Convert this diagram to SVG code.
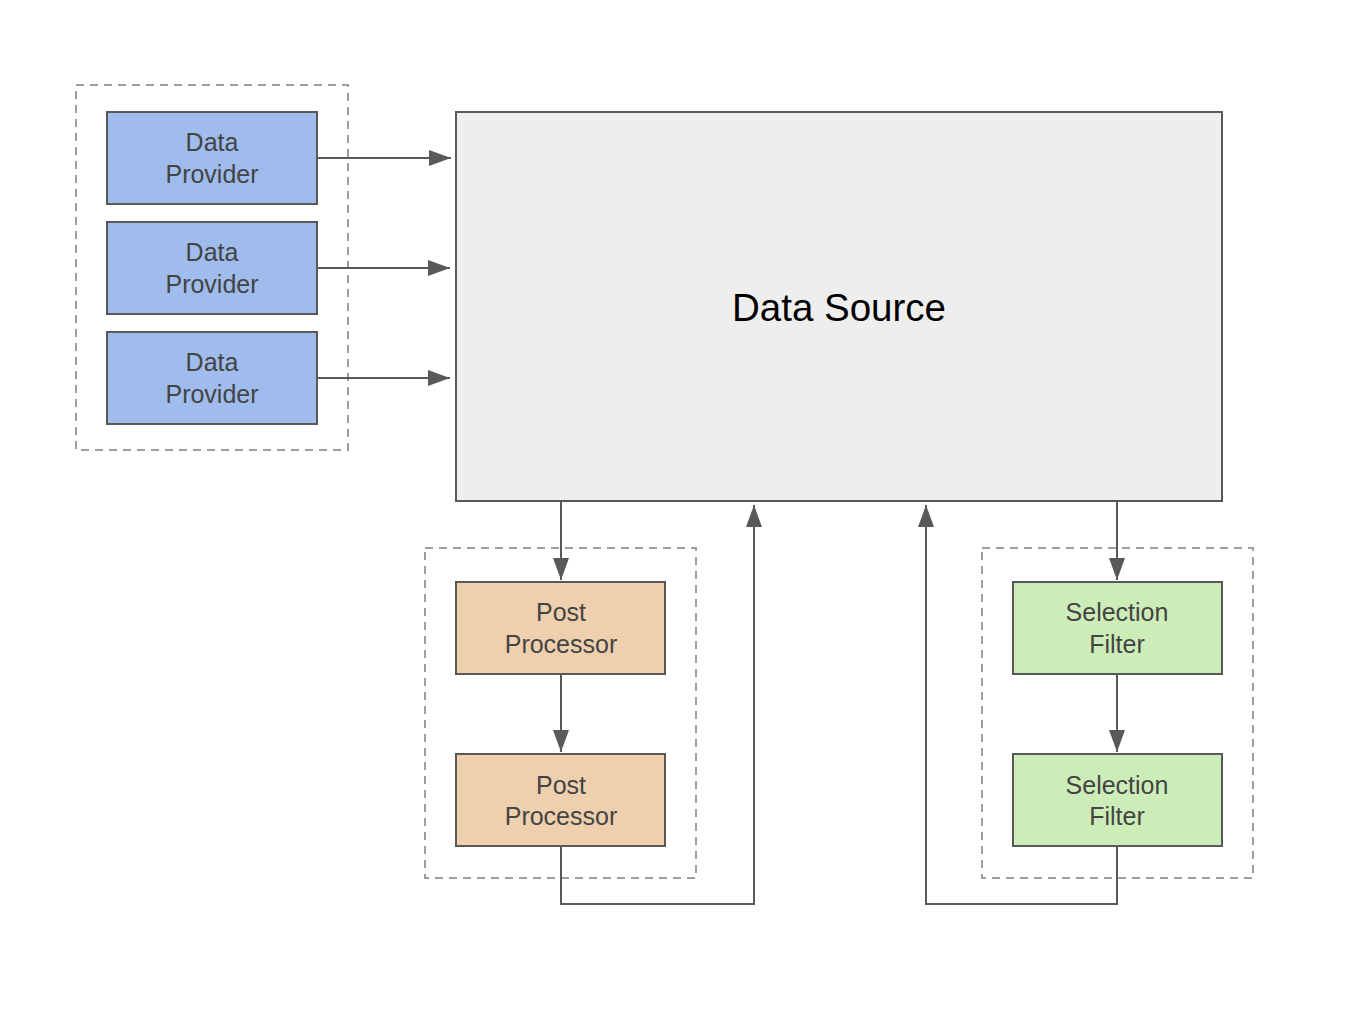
<svg xmlns="http://www.w3.org/2000/svg" width="1364" height="1016" viewBox="0 0 1364 1016">
<style>
.grp{fill:none;stroke:#9e9e9e;stroke-width:2;stroke-dasharray:8,6}
.node{stroke:#595959;stroke-width:2}
.dp{fill:#9fbcec}
.pp{fill:#efd0ae}
.sf{fill:#cdedb8}
.lbl{font-family:"Liberation Sans",Arial,sans-serif;font-size:25px;fill:#444444;text-anchor:middle}
.big{font-family:"Liberation Sans",Arial,sans-serif;font-size:38.5px;fill:#000000;text-anchor:middle}
.conn{fill:none;stroke:#595959;stroke-width:2}
</style>
<defs>
<marker id="ah" viewBox="0 0 22 16" refX="22" refY="8" markerWidth="22" markerHeight="16" markerUnits="userSpaceOnUse" orient="auto">
<path d="M0,0 L22,8 L0,16 Z" fill="#595959"/>
</marker>
</defs>
<rect x="0" y="0" width="1364" height="1016" fill="#ffffff"/>
<g id="group-providers"><rect class="grp" x="76" y="85" width="272" height="365"/></g>
<g id="group-post"><rect class="grp" x="425" y="548" width="271" height="330"/></g>
<g id="group-filters"><rect class="grp" x="982" y="548" width="271" height="330"/></g>
<g id="data-source">
<rect x="456" y="112" width="766" height="389" fill="#eeeeee" class="node"/>
<text class="big" x="839" y="321">Data Source</text>
</g>
<g id="provider1">
<rect class="node dp" x="107" y="112" width="210" height="92"/>
<text class="lbl" x="212" y="151">Data</text><text class="lbl" x="212" y="183">Provider</text>
</g>
<g id="provider2">
<rect class="node dp" x="107" y="222" width="210" height="92"/>
<text class="lbl" x="212" y="261">Data</text><text class="lbl" x="212" y="293">Provider</text>
</g>
<g id="provider3">
<rect class="node dp" x="107" y="332" width="210" height="92"/>
<text class="lbl" x="212" y="371">Data</text><text class="lbl" x="212" y="403">Provider</text>
</g>
<g id="post1">
<rect class="node pp" x="456" y="582" width="209" height="92"/>
<text class="lbl" x="561" y="621">Post</text><text class="lbl" x="561" y="653">Processor</text>
</g>
<g id="post2">
<rect class="node pp" x="456" y="754" width="209" height="92"/>
<text class="lbl" x="561" y="794">Post</text><text class="lbl" x="561" y="825">Processor</text>
</g>
<g id="filter1">
<rect class="node sf" x="1013" y="582" width="209" height="92"/>
<text class="lbl" x="1117" y="621">Selection</text><text class="lbl" x="1117" y="653">Filter</text>
</g>
<g id="filter2">
<rect class="node sf" x="1013" y="754" width="209" height="92"/>
<text class="lbl" x="1117" y="794">Selection</text><text class="lbl" x="1117" y="825">Filter</text>
</g>
<g id="connectors">
<line class="conn" x1="317" y1="158" x2="451" y2="158" marker-end="url(#ah)"/>
<line class="conn" x1="317" y1="268" x2="450" y2="268" marker-end="url(#ah)"/>
<line class="conn" x1="317" y1="378" x2="450" y2="378" marker-end="url(#ah)"/>
<line class="conn" x1="561" y1="502" x2="561" y2="580" marker-end="url(#ah)"/>
<line class="conn" x1="561" y1="675" x2="561" y2="752" marker-end="url(#ah)"/>
<polyline class="conn" points="561,847 561,904 754,904 754,505" marker-end="url(#ah)"/>
<line class="conn" x1="1117" y1="502" x2="1117" y2="580" marker-end="url(#ah)"/>
<line class="conn" x1="1117" y1="675" x2="1117" y2="752" marker-end="url(#ah)"/>
<polyline class="conn" points="1117,847 1117,904 926,904 926,505" marker-end="url(#ah)"/>
</g>
</svg>
